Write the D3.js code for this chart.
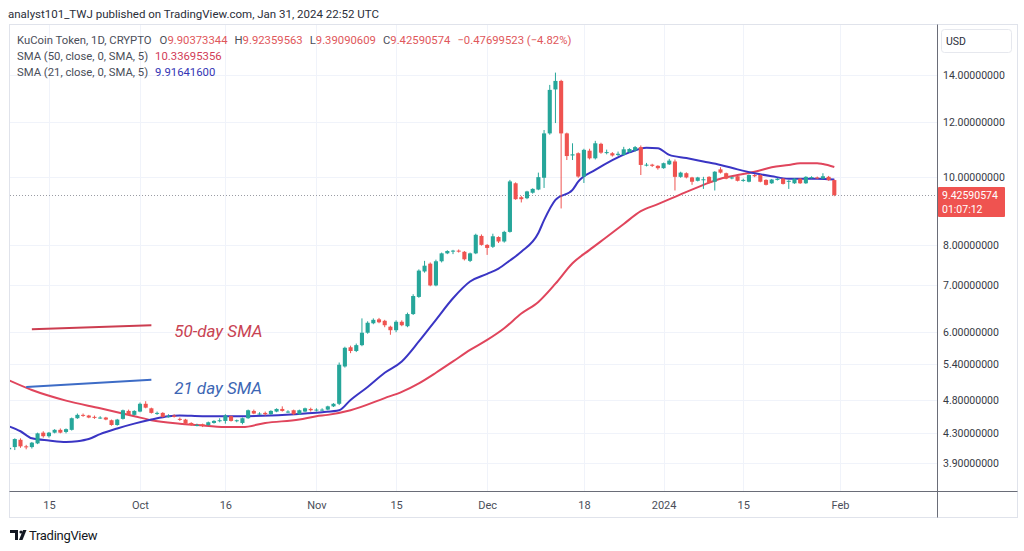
<!DOCTYPE html>
<html><head><meta charset="utf-8">
<script src="https://cdn.jsdelivr.net/npm/d3@7"></script>
<style>
body{margin:0;background:#fff;}
svg{display:block;font-family:Roboto,"Noto Sans",sans-serif;}
</style>
</head><body>
<svg id="chart" width="1024" height="551"></svg>
<script>
// ---- DATA (day, open, high, low, close) ----
const sepCandles = [
[8,4.08,4.13,4.04,4.10],[9,4.11,4.23,4.07,4.22],[10,4.21,4.23,4.10,4.12],[11,4.12,4.14,4.08,4.11],
[12,4.11,4.18,4.09,4.17],[13,4.16,4.31,4.15,4.30],[14,4.31,4.33,4.24,4.26],[15,4.26,4.32,4.24,4.31],
[16,4.31,4.36,4.30,4.35],[17,4.35,4.37,4.30,4.31],[18,4.32,4.37,4.30,4.36],[19,4.35,4.53,4.34,4.52],
[20,4.52,4.59,4.51,4.57],[21,4.57,4.59,4.54,4.56],[22,4.56,4.57,4.52,4.53],[23,4.54,4.56,4.51,4.53],
[24,4.53,4.55,4.51,4.53],[25,4.53,4.54,4.49,4.50],[26,4.49,4.50,4.41,4.42],[27,4.42,4.51,4.41,4.50],
[28,4.51,4.65,4.50,4.64],[29,4.63,4.65,4.56,4.57],[30,4.57,4.64,4.56,4.63]];
const octCandles = [
[1,4.62,4.76,4.61,4.74],[2,4.74,4.78,4.67,4.68],[3,4.67,4.68,4.59,4.60],[4,4.60,4.62,4.57,4.60],
[5,4.60,4.61,4.53,4.54],[6,4.55,4.58,4.53,4.55],[7,4.56,4.58,4.53,4.54],[8,4.51,4.53,4.48,4.50],
[9,4.50,4.51,4.43,4.44],[10,4.45,4.46,4.41,4.42],[11,4.42,4.44,4.40,4.42],[12,4.43,4.44,4.39,4.41],
[13,4.42,4.47,4.41,4.46],[14,4.45,4.49,4.44,4.48],[15,4.49,4.52,4.46,4.49],[16,4.48,4.58,4.44,4.56],
[17,4.55,4.56,4.47,4.48],[18,4.48,4.50,4.46,4.49],[19,4.45,4.53,4.43,4.52],[20,4.52,4.65,4.51,4.64],
[21,4.63,4.65,4.58,4.59],[22,4.59,4.61,4.57,4.59],[23,4.60,4.62,4.56,4.58],[24,4.58,4.64,4.57,4.63],
[25,4.62,4.67,4.61,4.66],[26,4.66,4.70,4.62,4.63],[27,4.62,4.64,4.60,4.62],[28,4.64,4.65,4.57,4.58],
[29,4.58,4.65,4.57,4.64],[30,4.62,4.68,4.61,4.67],[31,4.66,4.68,4.62,4.64]];
const novCandles = [
[1,4.64,4.67,4.62,4.65],[2,4.65,4.67,4.63,4.65],[3,4.65,4.71,4.64,4.70],[4,4.70,4.75,4.69,4.74],
[5,4.74,5.43,4.72,5.39],[6,5.36,5.72,5.34,5.70],[7,5.71,5.74,5.60,5.64],[8,5.64,5.78,5.62,5.75],
[9,5.75,6.28,5.73,5.99],[10,5.99,6.22,5.97,6.19],[11,6.18,6.28,6.16,6.25],[12,6.26,6.29,6.18,6.20],
[13,6.23,6.25,6.10,6.14],[14,6.11,6.13,5.95,6.04],[15,6.04,6.24,6.00,6.21],[16,6.21,6.24,6.12,6.14],
[17,6.12,6.40,6.10,6.37],[18,6.37,6.80,6.35,6.76],[19,6.74,7.38,6.72,7.35],[20,7.33,7.59,7.30,7.47],
[21,7.52,7.55,6.98,7.00],[22,7.00,7.62,6.98,7.58],[23,7.58,7.80,7.55,7.78],[24,7.78,7.86,7.76,7.84],
[25,7.84,7.87,7.76,7.85],[26,7.85,7.88,7.80,7.83],[27,7.82,7.84,7.60,7.63],[28,7.59,7.80,7.56,7.78],
[29,7.78,8.30,7.76,8.27],[30,8.24,8.28,7.98,8.00]];
const decCandles = [
[1,8.00,8.02,7.74,7.92],[2,7.95,8.30,7.92,8.23],[3,8.21,8.23,8.05,8.09],[4,8.09,8.38,8.06,8.35],
[5,8.35,9.91,8.33,9.86],[6,9.80,9.83,9.28,9.30],[7,9.36,9.40,9.20,9.30],[8,9.33,9.56,9.30,9.54],
[9,9.50,9.64,9.47,9.62],[10,9.60,10.15,9.58,10.00],[11,9.98,11.68,9.65,11.55],[12,11.55,13.55,11.50,13.33],
[13,13.35,14.11,11.95,13.73],[14,13.73,13.78,9.02,11.55],[15,11.55,11.58,10.58,10.72],[16,10.74,11.18,10.58,10.78],
[17,10.82,10.85,9.98,10.02],[18,10.02,10.98,9.81,10.94],[19,10.91,10.98,10.60,10.64],[20,10.64,11.27,10.60,11.18],
[21,11.16,11.20,10.80,10.84],[22,10.84,10.95,10.78,10.86],[23,10.82,10.86,10.70,10.74],[24,10.76,10.88,10.72,10.80],
[25,10.76,11.05,10.74,10.96],[26,10.86,11.00,10.84,10.97],[27,10.92,11.08,10.88,11.04],[28,11.04,11.10,10.07,10.41],
[29,10.40,10.48,10.36,10.42],[30,10.42,10.45,10.34,10.38],[31,10.38,10.40,10.25,10.30]];
const janCandles = [
[1,10.30,10.49,10.28,10.47],[2,10.43,10.62,10.41,10.56],[3,10.53,10.60,9.57,10.01],[4,10.01,10.18,9.98,10.15],
[5,10.13,10.16,9.96,9.99],[6,9.99,10.01,9.75,9.85],[7,9.88,10.01,9.86,9.99],[8,9.91,10.01,9.62,9.93],
[9,10.01,10.03,9.80,9.82],[10,9.85,10.20,9.57,10.18],[11,10.26,10.33,10.12,10.15],[12,10.13,10.15,9.93,9.95],
[13,9.97,10.02,9.93,9.99],[14,10.03,10.05,9.86,9.88],[15,9.88,9.95,9.85,9.91],[16,9.85,10.09,9.83,10.07],
[17,10.07,10.10,10.00,10.03],[18,10.07,10.09,9.83,9.85],[19,9.91,9.93,9.73,9.75],[20,9.80,9.94,9.78,9.92],
[21,9.91,9.97,9.89,9.95],[22,9.95,9.97,9.76,9.78],[23,9.86,9.90,9.62,9.88],[24,9.80,9.97,9.78,9.95],
[25,9.95,9.97,9.78,9.80],[26,9.80,10.03,9.78,10.01],[27,9.98,10.03,9.95,10.00],[28,9.99,10.02,9.94,9.97],
[29,9.95,10.13,9.93,10.03],[30,10.01,10.04,9.88,9.90],[31,9.90373344,9.92359563,9.39090609,9.42590574]];

const sma50Points = [
["2023-09-08",5.12],["2023-09-12",4.96],["2023-09-18",4.79],["2023-09-24",4.67],["2023-09-30",4.55],
["2023-10-03",4.49],["2023-10-08",4.44],["2023-10-11",4.42],["2023-10-16",4.39],["2023-10-19",4.39],
["2023-10-23",4.45],["2023-10-29",4.50],["2023-11-01",4.55],["2023-11-03",4.57],["2023-11-07",4.64],
["2023-11-13",4.83],["2023-11-16",4.93],["2023-11-19",5.07],["2023-11-22",5.25],["2023-11-25",5.45],
["2023-11-28",5.66],["2023-12-01",5.85],["2023-12-04",6.08],["2023-12-07",6.38],["2023-12-10",6.63],
["2023-12-13",7.04],["2023-12-16",7.53],["2023-12-19",7.87],["2023-12-22",8.21],["2023-12-25",8.57],
["2023-12-28",8.94],["2023-12-31",9.15],["2024-01-03",9.37],["2024-01-08",9.75],["2024-01-11",9.95],
["2024-01-14",10.07],["2024-01-17",10.18],["2024-01-20",10.33],["2024-01-23",10.41],["2024-01-25",10.47],
["2024-01-28",10.47],["2024-01-29",10.44],["2024-01-31",10.34]];
const sma21Points = [
["2023-09-08",4.40],["2023-09-10",4.33],["2023-09-12",4.23],["2023-09-15",4.20],["2023-09-18",4.18],
["2023-09-20",4.19],["2023-09-22",4.22],["2023-09-24",4.29],["2023-09-27",4.37],["2023-09-30",4.44],
["2023-10-03",4.50],["2023-10-06",4.55],["2023-10-08",4.56],["2023-10-12",4.55],["2023-10-18",4.55],
["2023-10-24",4.56],["2023-10-30",4.59],["2023-11-02",4.61],["2023-11-05",4.64],["2023-11-07",4.80],
["2023-11-10",5.01],["2023-11-13",5.25],["2023-11-16",5.45],["2023-11-19",5.82],["2023-11-22",6.25],
["2023-11-25",6.71],["2023-11-28",7.09],["2023-12-01",7.27],["2023-12-03",7.40],["2023-12-05",7.60],
["2023-12-07",7.82],["2023-12-10",8.32],["2023-12-11",8.68],["2023-12-13",9.28],["2023-12-16",9.59],
["2023-12-17",9.85],["2023-12-20",10.24],["2023-12-23",10.58],["2023-12-26",10.85],["2023-12-29",11.02],
["2023-12-31",11.00],["2024-01-02",10.76],["2024-01-05",10.65],["2024-01-08",10.53],["2024-01-11",10.41],
["2024-01-14",10.26],["2024-01-17",10.13],["2024-01-20",10.03],["2024-01-23",9.95],["2024-01-25",9.95],
["2024-01-28",9.95],["2024-01-31",9.92]];

const yTicks = [14,12,10,8,7,6,5.4,4.8,4.3,3.9];
const xTickDates = ["2023-09-15","2023-10-01","2023-10-16","2023-11-01","2023-11-15","2023-12-01","2023-12-18","2024-01-01","2024-01-15","2024-02-01"];
const xTickLabels = ["15","Oct","16","Nov","15","Dec","18","2024","15","Feb"];

// annotation drawings (anchored in date/price)
const annoRed = [["2023-09-12",6.06],["2023-10-03",6.14]];
const annoBlue = [["2023-09-11",5.01],["2023-10-03",5.13]];
const annoRedText = ["2023-10-07",6.02,"50-day SMA"];
const annoBlueText = ["2023-10-07",5.00,"21 day SMA"];

const headerText = "analyst101_TWJ published on TradingView.com, Jan 31, 2024 22:52 UTC";
const symbolText = "KuCoin Token, 1D, CRYPTO";
const changeText = "\u22120.47699523 (\u22124.82%)";
const sma50Label = "SMA (50, close, 0, SMA, 5)", sma50Value = "10.33695356";
const sma21Label = "SMA (21, close, 0, SMA, 5)", sma21Value = "9.91641600";
const countdownText = "01:07:12";

// ---- BUILD ----
const parse = s => { const [Y,M,D] = s.split("-").map(Number); return new Date(Date.UTC(Y,M-1,D)); };
const months = [[2023,9,sepCandles],[2023,10,octCandles],[2023,11,novCandles],[2023,12,decCandles],[2024,1,janCandles]];
const candles = [];
months.forEach(([Y,M,arr]) => arr.forEach(r => candles.push({date:new Date(Date.UTC(Y,M-1,r[0])),o:r[1],h:r[2],l:r[3],c:r[4]})));
const last = candles[candles.length-1];

const svg = d3.select("#chart");
const P = {left:10,right:937,top:25,bottom:491};
const x = d3.scaleUtc().domain([parse("2023-10-01"),parse("2024-02-01")]).range([140,840]);
const y = d3.scaleLog().domain([14,3.9]).range([75,463]);
const UP="#26a69a", DN="#ef5350";

svg.append("rect").attr("width",1024).attr("height",551).attr("fill","#fff");

// header
svg.append("text").attr("x",8).attr("y",18).attr("font-size",11.5).attr("fill","#2a2e39").text(headerText);

// pane frame
svg.append("rect").attr("x",9.5).attr("y",24.5).attr("width",1008).attr("height",493)
  .attr("fill","none").attr("stroke","#e0e3eb");

// grid
const grid = svg.append("g").attr("stroke","#f0f3fa").attr("stroke-width",1);
grid.selectAll("line.v").data(xTickDates).join("line")
  .attr("x1",d=>Math.round(x(parse(d)))+0.5).attr("x2",d=>Math.round(x(parse(d)))+0.5)
  .attr("y1",P.top).attr("y2",P.bottom);
grid.selectAll("line.h").data(yTicks).join("line")
  .attr("x1",P.left).attr("x2",P.right)
  .attr("y1",d=>Math.round(y(d))+0.5).attr("y2",d=>Math.round(y(d))+0.5);

// clip
svg.append("defs").append("clipPath").attr("id","plotclip").append("rect")
  .attr("x",P.left).attr("y",P.top).attr("width",P.right-P.left).attr("height",P.bottom-P.top);
const plot = svg.append("g").attr("clip-path","url(#plotclip)");

// last price dotted line
plot.append("line").attr("x1",P.left).attr("x2",P.right)
  .attr("y1",Math.round(y(last.c))+0.5).attr("y2",Math.round(y(last.c))+0.5)
  .attr("stroke","#9a9ca4").attr("stroke-dasharray","1 2").attr("stroke-width",1);

// SMA lines
const lineGen = d3.line().x(d=>x(parse(d[0]))).y(d=>y(d[1])).curve(d3.curveMonotoneX);
plot.append("path").datum(sma50Points).attr("d",lineGen).attr("fill","none").attr("stroke","#e0455c").attr("stroke-width",2);
plot.append("path").datum(sma21Points).attr("d",lineGen).attr("fill","none").attr("stroke","#3a35c4").attr("stroke-width",2);

// candles
const step = x(parse("2023-10-02")) - x(parse("2023-10-01"));
const bw = Math.max(3, step*0.72);
const cs = plot.append("g").selectAll("g").data(candles).join("g");
cs.append("line")
  .attr("x1",d=>x(d.date)).attr("x2",d=>x(d.date))
  .attr("y1",d=>y(d.h)).attr("y2",d=>y(d.l))
  .attr("stroke",d=>d.c>=d.o?UP:DN).attr("stroke-width",1);
cs.append("rect")
  .attr("x",d=>x(d.date)-bw/2).attr("width",bw)
  .attr("y",d=>Math.min(y(d.o),y(d.c)))
  .attr("height",d=>Math.max(1,Math.abs(y(d.o)-y(d.c))))
  .attr("fill",d=>d.c>=d.o?UP:DN);

// annotations
const annoLine = d3.line().x(d=>x(parse(d[0]))).y(d=>y(d[1]));
plot.append("path").datum(annoRed).attr("d",annoLine).attr("stroke","#cc3d50").attr("stroke-width",2).attr("fill","none");
plot.append("path").datum(annoBlue).attr("d",annoLine).attr("stroke","#3d6cc6").attr("stroke-width",2).attr("fill","none");
plot.append("text").attr("x",x(parse(annoRedText[0]))).attr("y",y(annoRedText[1])).attr("dy","0.35em")
  .attr("font-size",17).attr("font-style","italic").attr("fill","#c94352").text(annoRedText[2]);
plot.append("text").attr("x",x(parse(annoBlueText[0]))).attr("y",y(annoBlueText[1])).attr("dy","0.35em")
  .attr("font-size",17).attr("font-style","italic").attr("fill","#3d66b4").text(annoBlueText[2]);

// axes lines
svg.append("line").attr("x1",9.5).attr("x2",1017.5).attr("y1",P.bottom+0.5).attr("y2",P.bottom+0.5).attr("stroke","#6a6d78");
svg.append("line").attr("x1",P.right+0.5).attr("x2",P.right+0.5).attr("y1",24.5).attr("y2",517.5).attr("stroke","#6a6d78");

// y axis
const yAxis = svg.append("g").attr("transform",`translate(${P.right},0)`)
  .call(d3.axisRight(y).tickValues(yTicks).tickFormat(d=>d.toFixed(8)).tickSize(0).tickPadding(6));
yAxis.select(".domain").remove();
yAxis.selectAll("text").attr("font-size",10.5).attr("fill","#363a45").attr("font-family","Roboto,sans-serif");

// x axis
const xAxis = svg.append("g").attr("transform",`translate(0,${P.bottom})`)
  .call(d3.axisBottom(x).tickValues(xTickDates.map(parse)).tickFormat((d,i)=>xTickLabels[i]).tickSize(0).tickPadding(10));
xAxis.select(".domain").remove();
xAxis.selectAll("text").attr("font-size",11).attr("fill","#4a4e59").attr("font-family","Roboto,sans-serif");

// USD box
svg.append("rect").attr("x",941.5).attr("y",29.5).attr("width",70).attr("height",23).attr("rx",3)
  .attr("fill","#fff").attr("stroke","#e6e8ee");
svg.append("text").attr("x",946).attr("y",45).attr("font-size",10.5).attr("fill","#2a2e39").text("USD");

// price tag
const ly = y(last.c);
svg.append("rect").attr("x",P.right+1).attr("y",ly-8).attr("width",67).attr("height",30).attr("rx",1).attr("fill","#ef5350");
svg.append("text").attr("x",942).attr("y",ly).attr("dy","0.35em").attr("font-size",10.5).attr("fill","#fff").text(last.c.toFixed(8));
svg.append("text").attr("x",942).attr("y",ly+14).attr("dy","0.35em").attr("font-size",10.5).attr("fill","#fff").text(countdownText);

// legend
const lg = svg.append("g").attr("font-size",11.3);
const l1 = lg.append("text").attr("x",17).attr("y",44).attr("fill","#4a4e59");
l1.append("tspan").text(symbolText);
const ohlc = [["O",last.o],["H",last.h],["L",last.l],["C",last.c]];
ohlc.forEach(([k,v],i)=>{
  l1.append("tspan").attr("dx",i===0?8:7).attr("fill","#4a4e59").text(k);
  l1.append("tspan").attr("fill","#e0575b").text(v.toFixed(8));
});
l1.append("tspan").attr("dx",7).attr("fill","#e0575b").text(changeText);
const l2 = lg.append("text").attr("x",17).attr("y",60).attr("fill","#4a4e59");
l2.append("tspan").text(sma50Label);
l2.append("tspan").attr("dx",7).attr("fill","#d13c57").text(sma50Value);
const l3 = lg.append("text").attr("x",17).attr("y",76).attr("fill","#4a4e59");
l3.append("tspan").text(sma21Label);
l3.append("tspan").attr("dx",7).attr("fill","#3434b4").text(sma21Value);

// TradingView logo
const logo = svg.append("g").attr("fill","#131722");
logo.append("path").attr("d","M10 530 h8 v10 h-3 v-7 h-5 z");
logo.append("circle").attr("cx",21).attr("cy",532).attr("r",1.6);
logo.append("path").attr("d","M19 540 l4 -10 h3.5 l-4 10 z");
svg.append("text").attr("x",29).attr("y",540).attr("font-size",13).attr("fill","#131722").attr("letter-spacing",-0.3).text("TradingView");
</script>
</body></html>
